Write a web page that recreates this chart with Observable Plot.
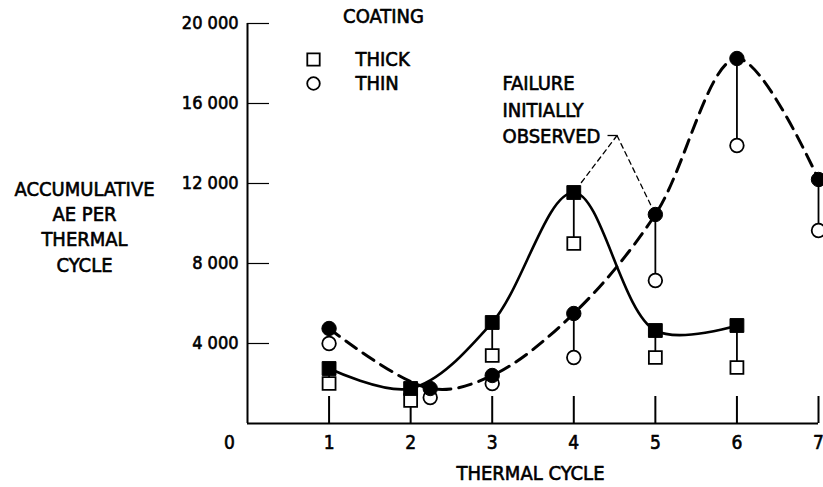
<!DOCTYPE html>
<html><head><meta charset="utf-8">
<script src="https://cdn.jsdelivr.net/npm/d3@7"></script>
<script src="https://cdn.jsdelivr.net/npm/@observablehq/plot@0.6"></script>
<style>
html,body{margin:0;padding:0;background:#fff;}
#chart svg{font-family:"DejaVu Sans Condensed","DejaVu Sans",sans-serif;font-stretch:condensed;}
</style></head><body><div id="chart"></div>
<script>
// Thick coating (squares): filled = upper marker on solid curve, open = lower marker
const thickCycles = [1, 2, 3, 4, 5, 6];
const thickFilled = [2750, 1750, 5050, 11550, 4650, 4900];
const thickOpen   = [2000, 1150, 3400, 9000, 3300, 2800];
// Thin coating (circles): filled = upper marker on dashed curve, open = lower marker
const thinCycles = [1, 2.24, 3, 4, 5, 6, 7];
const thinFilled = [4750, 1750, 2400, 5500, 10450, 18250, 12200];
const thinOpen   = [4000, 1300, 2000, 3300, 7150, 13900, 9650];
// Axes
const xTicks = [1, 2, 3, 4, 5, 6, 7];
const yTicks = [4000, 8000, 12000, 16000, 20000];
const yTickLabels = ["4 000", "8 000", "12 000", "16 000", "20 000"];
const originLabel = "0";
const xTitle = "THERMAL CYCLE";
const yTitle = "ACCUMULATIVE\nAE PER\nTHERMAL\nCYCLE";
// Legend
const legendTitle = "COATING";
const legendLabels = ["THICK", "THIN"];
const legendSymbols = ["square", "circle"];
// Annotation
const annotationText = "FAILURE\nINITIALLY\nOBSERVED";
const annotationApex = {cycle: 4.53, value: 14400};
const failureMarks = [{series: "thick", cycle: 4}, {series: "thin", cycle: 5}];

const thick = thickCycles.map((c, i) => ({cycle: c, top: thickFilled[i], bottom: thickOpen[i]}));
const thin = thinCycles.map((c, i) => ({cycle: c, top: thinFilled[i], bottom: thinOpen[i]}));
const failures = failureMarks.map(f => {
  const s = f.series === "thick" ? thick : thin;
  const p = s.find(d => d.cycle === f.cycle);
  return {x1: annotationApex.cycle, y1: annotationApex.value, x2: p.cycle, y2: p.top};
});

const fs = 20;
const txt = {fill: "black", stroke: "black", strokeWidth: 0.6, lineAnchor: "middle"};
const plot = Plot.plot({
  width: 823,
  height: 487,
  marginLeft: 247,
  marginRight: 5,
  marginTop: 23,
  marginBottom: 64,
  x: {domain: [0, 7], axis: null},
  y: {domain: [0, 20000], axis: null},
  style: {fontSize: fs + "px", color: "black", background: "white"},
  marks: [
    // axes lines
    Plot.ruleY([0], {x1: 0, x2: 7, strokeWidth: 2}),
    Plot.ruleX([0], {y1: 0, y2: 20000, strokeWidth: 2}),
    Plot.ruleX(xTicks, {x: d => d, y1: 0, y2: 0, insetTop: -27, strokeWidth: 2}),
    Plot.ruleY(yTicks, {y: d => d, x1: 0, x2: 0, insetRight: -22, strokeWidth: 1.2}),
    Plot.text(yTicks, {...txt, x: 0, y: d => d, text: (d, i) => yTickLabels[i], textAnchor: "end", dx: -9, fontSize: 18}),
    Plot.text([originLabel], {...txt, x: 0, y: 0, text: d => d, textAnchor: "middle", dx: -18, dy: 19, fontSize: 19}),
    Plot.text(xTicks, {...txt, x: d => d, y: 0, text: d => String(d), textAnchor: "middle", dy: 19, fontSize: 19}),
    Plot.text([xTitle], {...txt, frameAnchor: "bottom", text: d => d, textAnchor: "middle", dx: -2.5, dy: 50, fontSize: fs}),
    Plot.text([yTitle], {...txt, frameAnchor: "left", text: d => d, textAnchor: "middle", dx: -163, dy: 2, lineHeight: 1.27, fontSize: fs}),
    // stems
    Plot.ruleX(thick, {x: "cycle", y1: "bottom", y2: "top", strokeWidth: 1.8}),
    Plot.ruleX(thin, {x: "cycle", y1: "bottom", y2: "top", strokeWidth: 1.8}),
    // curves
    Plot.line(thick, {x: "cycle", y: "top", curve: "catmull-rom", strokeWidth: 2.6}),
    Plot.line(thin, {x: "cycle", y: "top", curve: "catmull-rom", strokeWidth: 3, strokeDasharray: "13,8"}),
    // open markers
    Plot.dot(thick, {x: "cycle", y: "bottom", symbol: "square", r: 7.3, fill: "white", stroke: "black", strokeWidth: 1.8}),
    Plot.dot(thin, {x: "cycle", y: "bottom", symbol: "circle", r: 6.8, fill: "white", stroke: "black", strokeWidth: 1.8}),
    // filled markers
    Plot.dot(thick, {x: "cycle", y: "top", symbol: "square", r: 7.8, fill: "black", stroke: "black", strokeWidth: 1}),
    Plot.dot(thin, {x: "cycle", y: "top", symbol: "circle", r: 7.2, fill: "black", stroke: "black", strokeWidth: 1}),
    // legend
    Plot.text([legendTitle], {...txt, frameAnchor: "top-left", text: d => d, textAnchor: "middle", dx: 136, dy: -7, fontSize: fs}),
    ...legendLabels.map((l, i) => Plot.dot([l], {frameAnchor: "top-left", dx: 66, dy: 36 + 24 * i, symbol: legendSymbols[i], r: legendSymbols[i] === "square" ? 7 : 6.3, fill: "white", stroke: "black", strokeWidth: 1.8})),
    ...legendLabels.map((l, i) => Plot.text([l], {...txt, frameAnchor: "top-left", text: d => d, dx: 108, dy: 36 + 24 * i, textAnchor: "start", fontSize: fs})),
    // annotation
    Plot.text([annotationText], {...txt, frameAnchor: "top-left", text: d => d, dx: 255, dy: 84.5, textAnchor: "start", lineHeight: 1.33, fontSize: fs}),
    Plot.ruleY([annotationApex], {y: "value", x1: "cycle", x2: "cycle", insetLeft: -9, strokeWidth: 1.3}),
    Plot.arrow(failures, {x1: "x1", y1: "y1", x2: "x2", y2: "y2", headLength: 0, insetEnd: 9, strokeWidth: 1.3, strokeDasharray: "5,4"})
  ]
});
document.getElementById("chart").appendChild(plot);
</script></body></html>
